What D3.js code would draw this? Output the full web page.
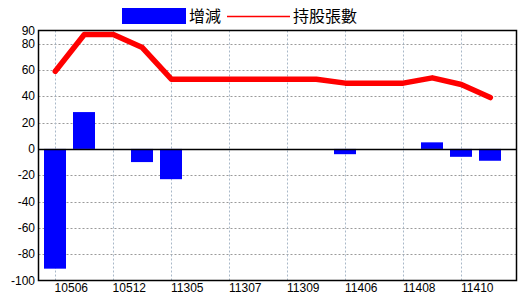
<html>
<head>
    <script src="https://d3js.org/d3.v7.min.js"></script>
    <style>
        body { margin: 0; background: #fff; }
    </style>
</head>
<body>
    <div id="cont"></div>
    <script>
        // data
        var months = ["10506","10507","10512","10601","11305","11306","11307","11308",
                      "11309","11310","11406","11407","11408","11409","11410","11411"];
        var change = [-91, 28, 0, -10, -23, 0, 0, 0, 0, 0, -4, 0, 0, 5, -6, -9];
        var holding = [59, 87, 87, 77, 53, 53, 53, 53, 53, 53, 50, 50, 50, 54, 49, 39];
        var labelIdx = [0, 2, 4, 6, 8, 10, 12, 14];
        var xLabels = ["10506","10512","11305","11307","11309","11406","11408","11410"];
        var yTicks = [90, 80, 60, 40, 20, 0, -20, -40, -60, -80, -100];

        var W = 520, H = 300;
        // plot box (window.top is reserved, so pl* names)
        var plLeft = 38.5, plRight = 516.5, plTop = 30.5, plBottom = 280.5;

        var svg = d3.select("#cont").append("svg")
            .attr("width", W)
            .attr("height", H)
            .style("font-family", "'Liberation Sans', Arial, sans-serif");

        var x = d3.scaleLinear().domain([0, 15]).range([55.3, 490.3]);
        var y = d3.scaleLinear().domain([-100, 90]).range([plBottom, plTop]);

        // grid
        svg.append("g").selectAll("line")
            .data(yTicks.filter(function (d) { return d != 90 && d != -100 && d != 0; }))
            .enter().append("line")
            .attr("x1", plLeft).attr("x2", plRight)
            .attr("y1", function (d) { return Math.round(y(d)) + 0.5; })
            .attr("y2", function (d) { return Math.round(y(d)) + 0.5; })
            .attr("stroke", "#9a9a9a")
            .attr("stroke-dasharray", "2,2");

        svg.append("g").selectAll("line")
            .data(labelIdx)
            .enter().append("line")
            .attr("x1", function (d) { return Math.round(x(d)) + 0.5; })
            .attr("x2", function (d) { return Math.round(x(d)) + 0.5; })
            .attr("y1", plTop).attr("y2", plBottom)
            .attr("stroke", "#a9b8c8")
            .attr("stroke-dasharray", "2,2");

        // bars
        var bw = 22;
        svg.append("g").selectAll("rect")
            .data(change)
            .enter().append("rect")
            .attr("x", function (d, i) { return Math.round(x(i) - bw / 2); })
            .attr("y", function (d) { return y(Math.max(0, d)); })
            .attr("width", bw)
            .attr("height", function (d) { return Math.abs(y(d) - y(0)); })
            .attr("fill", "#0000ff");

        // zero line
        svg.append("line")
            .attr("x1", plLeft).attr("x2", plRight)
            .attr("y1", Math.round(y(0)) + 0.5).attr("y2", Math.round(y(0)) + 0.5)
            .attr("stroke", "#000").attr("stroke-width", 1.5);

        // holding line
        var line = d3.line()
            .x(function (d, i) { return x(i); })
            .y(function (d) { return y(d); });
        svg.append("path")
            .datum(holding)
            .attr("d", line)
            .attr("fill", "none")
            .attr("stroke", "#ff0000")
            .attr("stroke-width", 5.5)
            .attr("stroke-linejoin", "round")
            .attr("stroke-linecap", "round");

        // frame
        svg.append("rect")
            .attr("x", plLeft).attr("y", plTop)
            .attr("width", plRight - plLeft).attr("height", plBottom - plTop)
            .attr("fill", "none")
            .attr("stroke", "#000")
            .attr("stroke-width", 1.5);

        // y labels
        svg.append("g").selectAll("text")
            .data(yTicks)
            .enter().append("text")
            .attr("x", 35)
            .attr("y", function (d) { return y(d) + 4; })
            .attr("text-anchor", "end")
            .attr("font-size", 12)
            .text(function (d) { return d; });

        // x labels (sit a bit right of their grid line)
        svg.append("g").selectAll("text")
            .data(labelIdx)
            .enter().append("text")
            .attr("x", function (d) { return x(d) + 16; })
            .attr("y", 292)
            .attr("text-anchor", "middle")
            .attr("font-size", 12)
            .text(function (d, i) { return xLabels[i]; });

        // legend
        var lg = svg.append("g");
        lg.append("rect")
            .attr("x", 122).attr("y", 8)
            .attr("width", 64).attr("height", 16)
            .attr("fill", "#0000ff");
        lg.append("text")
            .attr("x", 189).attr("y", 22)
            .attr("font-size", 16)
            .attr("font-family", "'Noto Sans CJK TC', sans-serif")
            .text("增減");
        lg.append("line")
            .attr("x1", 227).attr("x2", 290)
            .attr("y1", 16.5).attr("y2", 16.5)
            .attr("stroke", "#ff0000")
            .attr("stroke-width", 1.5);
        lg.append("text")
            .attr("x", 293).attr("y", 22)
            .attr("font-size", 16)
            .attr("font-family", "'Noto Sans CJK TC', sans-serif")
            .text("持股張數");
    </script>
</body>
</html>
